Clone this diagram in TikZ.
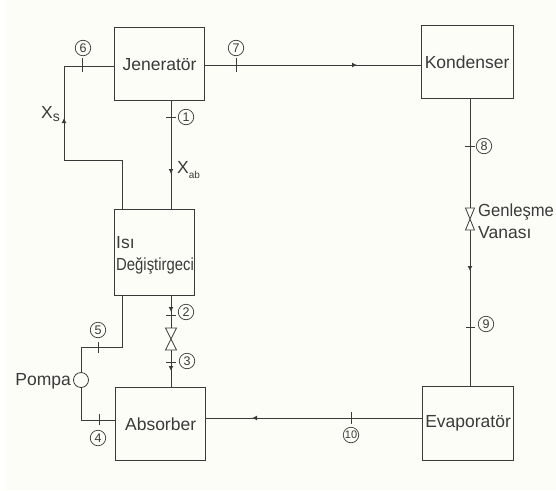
\documentclass[tikz,border=0pt]{standalone}
\usepackage{fontspec}
\setmainfont{Liberation Sans}
\usetikzlibrary{arrows.meta,decorations.markings}
\definecolor{paper}{HTML}{FDFDF8}
\definecolor{ink}{HTML}{3A3A3A}
\tikzset{
  x=1pt,y=-1pt,
  pipe/.style={draw=ink,line width=1pt},
  unit/.style={draw=ink,line width=1.2pt,fill=paper,rectangle,anchor=north west,inner sep=0pt,
     text=ink,font=\fontsize{17.5}{22}\selectfont},
  tickmark/.style={draw=ink,line width=0.8pt},
  num/.style={draw=ink,circle,line width=0.7pt,minimum size=15.5pt,inner sep=0pt,text=ink,
     font=\fontsize{12.5}{12.5}\selectfont},
  lbl/.style={text=ink,inner sep=0pt,font=\fontsize{17.5}{22}\selectfont},
  flow/.style={postaction={decorate,decoration={markings,
     mark=at position #1 with {\arrow{Latex[length=5pt,width=5pt]}}}}},
  valveshape/.style={draw=ink,line width=0.8pt,fill=paper,line join=miter},
}
\begin{document}
\begin{tikzpicture}
\useasboundingbox (0,0) rectangle (556,490);
\fill[white] (0,0) rectangle (556,490);
\fill[paper] (6,0) rectangle (556,490);
% units
\node[unit,minimum width=90pt,minimum height=73pt] (jen) at (114,27) {Jeneratör};
\node[unit,minimum width=92pt,minimum height=73pt] (kon) at (420.5,25) {Kondenser};
\node[unit,minimum width=80pt,minimum height=86pt] (isi) at (114,209) {};
\node[unit,minimum width=90pt,minimum height=73pt] (abs) at (115,387) {Absorber};
\node[unit,minimum width=91pt,minimum height=74pt] (eva) at (422,386) {Evaporatör};
\node[draw=ink,circle,line width=0.8pt,minimum size=15pt,inner sep=0pt,fill=paper] (pump) at (81,380) {};
% ports and bends
\coordinate (c6a) at (64,66);
\coordinate (c6b) at (64,160);
\coordinate (c6c) at (122,160);
\coordinate (c6d) at (122,209);
\coordinate (c1a) at (171,100);
\coordinate (c1b) at (171,209);
\coordinate (c7a) at (204,65);
\coordinate (c7b) at (420.5,65);
\coordinate (c8a) at (470,98);
\coordinate (v2t) at (470,208);
\coordinate (v2b) at (470,230);
\coordinate (c9b) at (470,386);
\coordinate (c10a) at (422,418);
\coordinate (c10b) at (205,418);
\coordinate (c2a) at (171,295);
\coordinate (v1t) at (171,328);
\coordinate (v1b) at (171,350);
\coordinate (c3b) at (171,387);
\coordinate (c5a) at (122,295);
\coordinate (c5b) at (122,347);
\coordinate (c5c) at (81,347);
\coordinate (c4a) at (115,420);
\coordinate (c4b) at (81,420);
% connectors
\draw[pipe,flow=149pt] (c6d) -- (c6c) -- (c6b) -- (c6a) -- (jen.west |- c6a);
\draw[pipe,flow=74pt] (c1a) -- (c1b);
\draw[pipe,flow=153pt] (c7a) -- (c7b);
\draw[pipe] (c8a) -- (v2t);
\draw[pipe,flow=41pt] (v2b) -- (c9b);
\draw[pipe,flow=170pt] (c10a) -- (c10b);
\draw[pipe,flow=17pt] (c2a) -- (v1t);
\draw[pipe,flow=21pt] (v1b) -- (c3b);
\draw[pipe] (c5a) -- (c5b) -- (c5c) -- (pump.north);
\draw[pipe] (pump.south) -- (c4b) -- (c4a);
% valves
\draw[valveshape] (165.5,328) -- (176.5,328) -- (165.5,350) -- (176.5,350) -- cycle;
\draw[valveshape] (465.5,208) -- (474.5,208) -- (465.5,230) -- (474.5,230) -- cycle;
% state ticks
\draw[tickmark] (82,58) -- (82,72);
\draw[tickmark] (236,58) -- (236,72);
\draw[tickmark] (166,117) -- (176,117);
\draw[tickmark] (465,146) -- (475,146);
\draw[tickmark] (466,327) -- (475,327);
\draw[tickmark] (351,412) -- (351,424);
\draw[tickmark] (166,315) -- (176,315);
\draw[tickmark] (166,362) -- (176,362);
\draw[tickmark] (98,342) -- (98,353);
\draw[tickmark] (99,414) -- (99,425);
% state numbers
\node[num] (n6) at (83,48) {6};
\node[num] (n7) at (236,48) {7};
\node[num] (n1) at (186,117) {1};
\node[num] (n8) at (484,146) {8};
\node[num] (n9) at (486,324) {9};
\node[num,font=\fontsize{11}{11}\selectfont] (n10) at (351,435) {10};
\node[num] (n2) at (186,312) {2};
\node[num] (n3) at (187,361) {3};
\node[num] (n5) at (98,330) {5};
\node[num] (n4) at (98,438) {4};
% labels
\node[lbl,anchor=base west] (isit) at (116,248) {Isı};
\node[lbl,anchor=base west] (degi) at (116,270) {\scalebox{0.85}[1]{Değiştirgeci}};
\node[lbl,anchor=base west] (xs) at (41,118) {X\raisebox{-3pt}{\fontsize{14}{14}\selectfont s}};
\node[lbl,anchor=base west] (xab) at (177,173) {X\raisebox{-5pt}{\fontsize{10}{10}\selectfont ab}};
\node[lbl,anchor=base east] (pompa) at (71,385) {Pompa};
\node[lbl,anchor=base west] (gen) at (478,216) {\scalebox{0.95}[1]{Genleşme}};
\node[lbl,anchor=base west] (van) at (478,238) {Vanası};
\end{tikzpicture}
\end{document}
